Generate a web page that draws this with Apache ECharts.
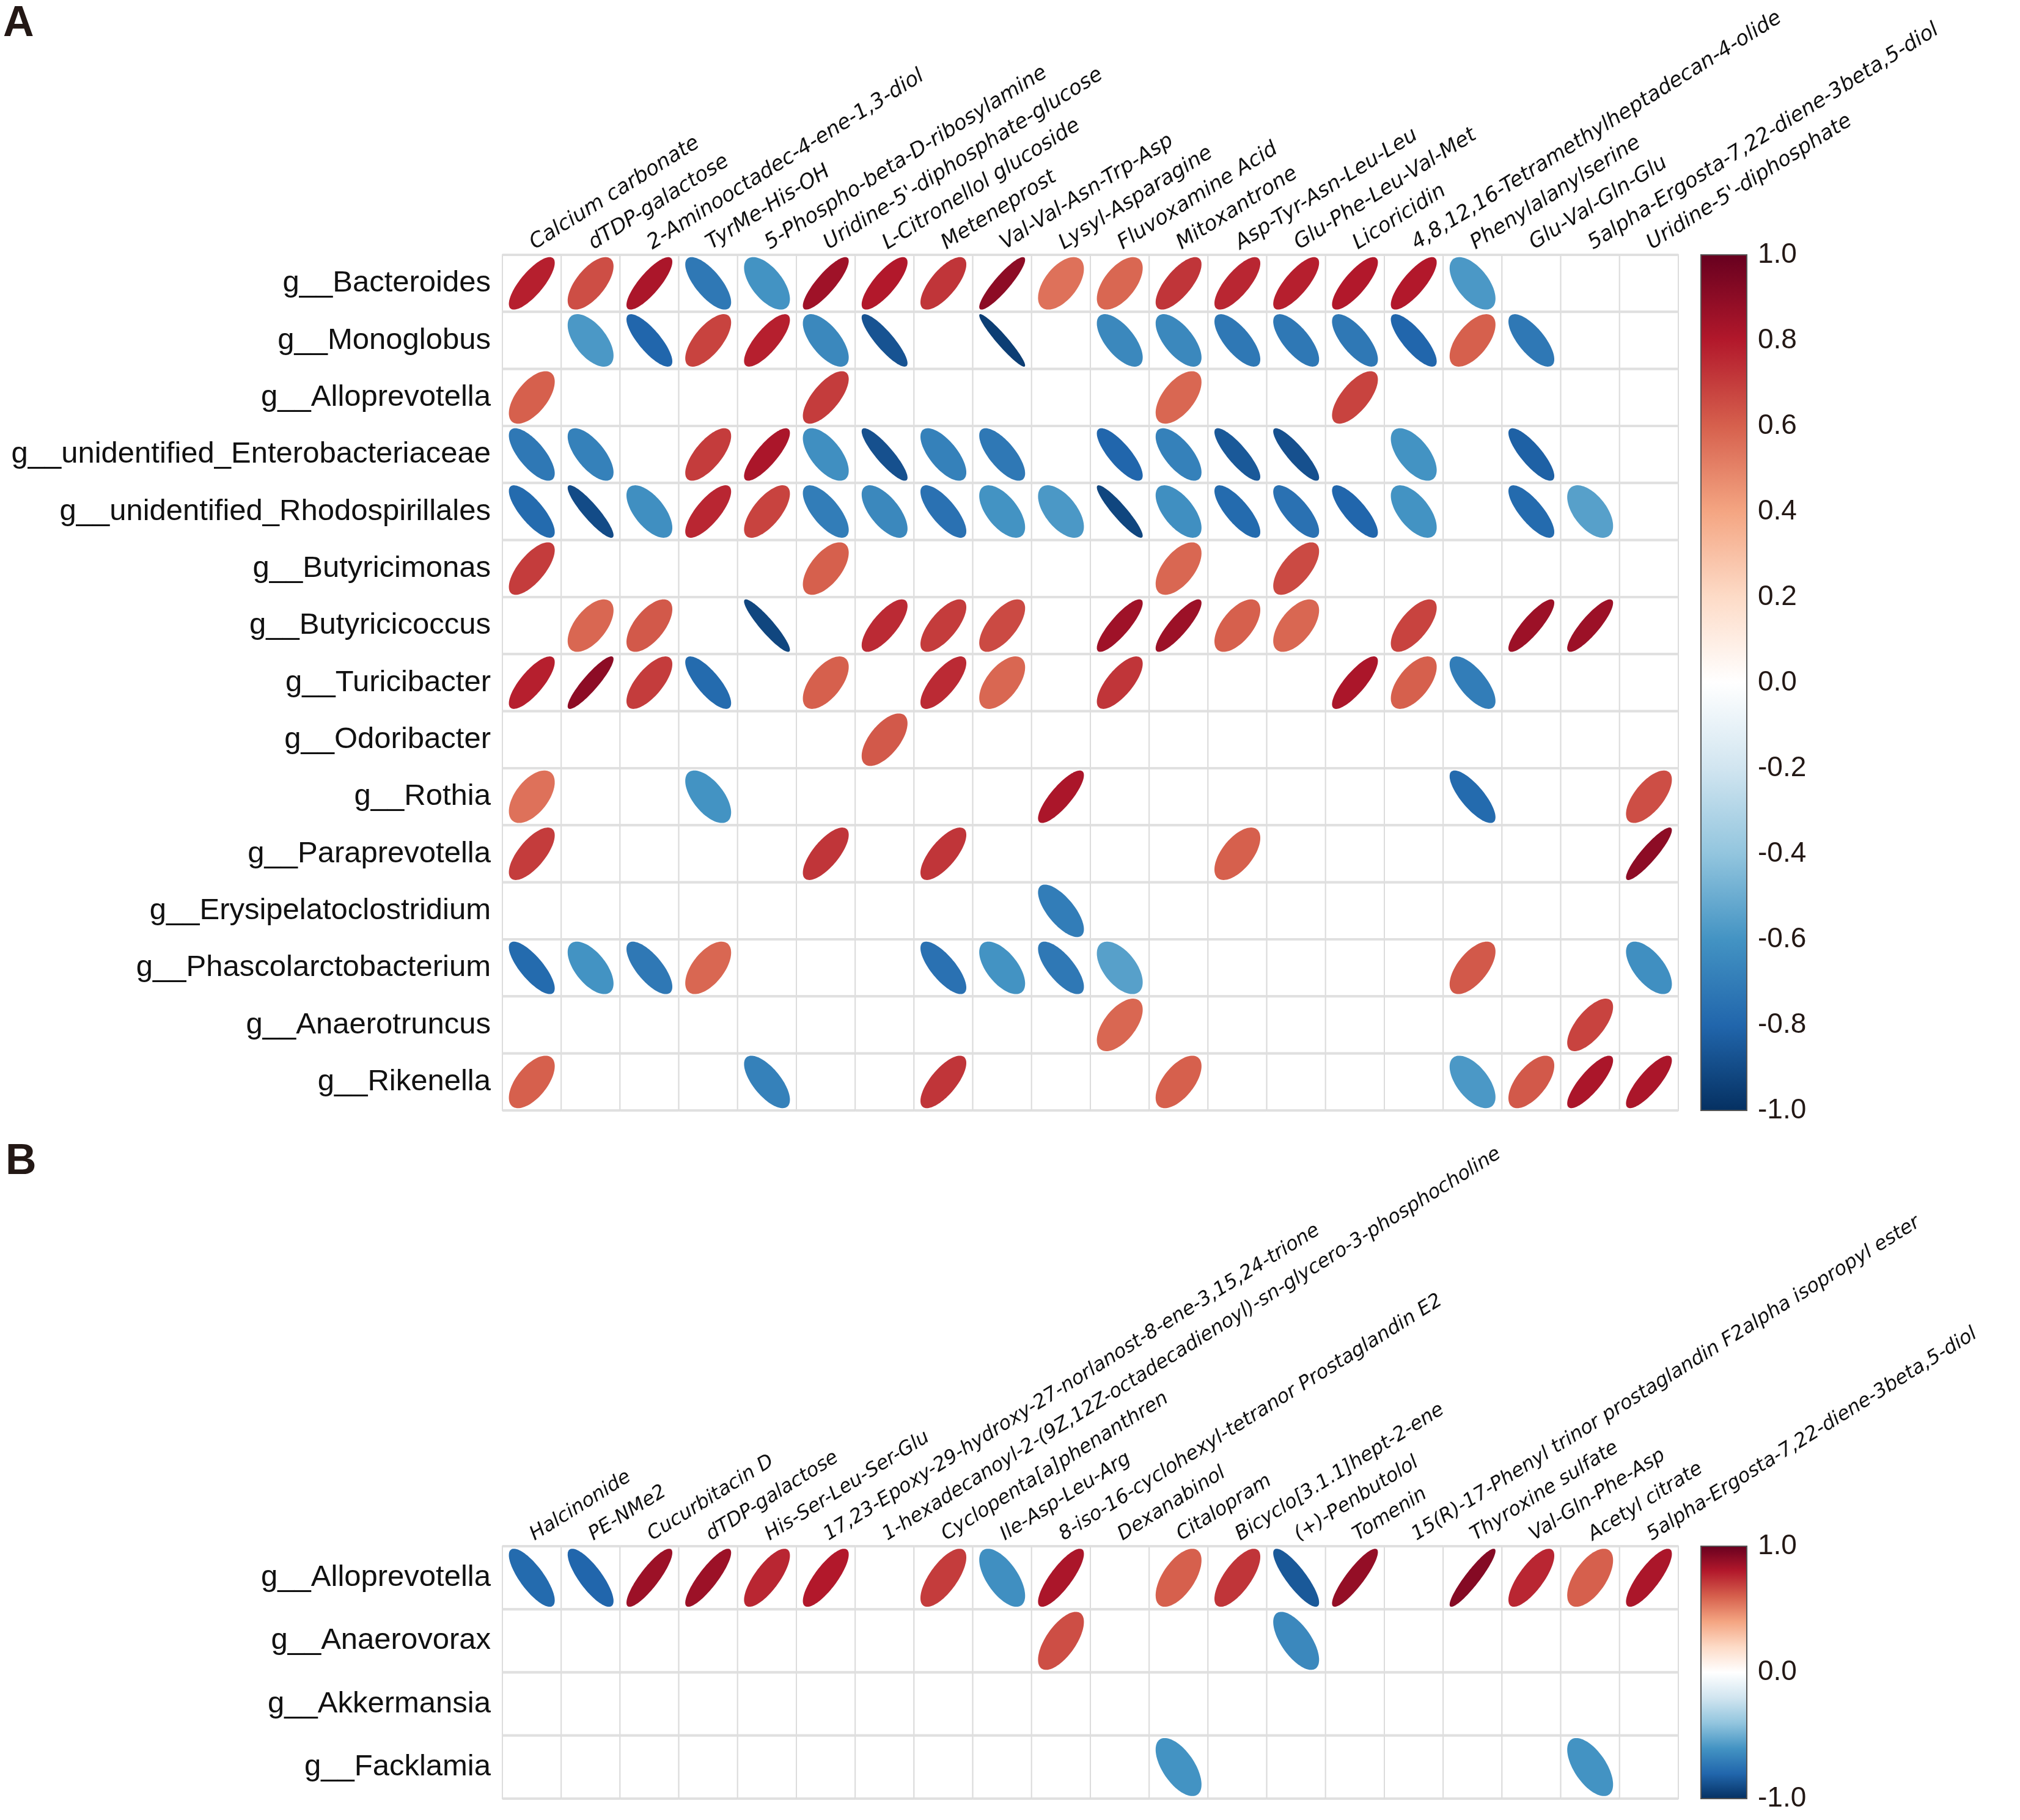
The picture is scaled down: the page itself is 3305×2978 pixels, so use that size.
<!DOCTYPE html>
<html><head><meta charset="utf-8">
<script src="https://cdn.jsdelivr.net/npm/echarts@6/dist/echarts.min.js"></script>
<style>html,body{margin:0;padding:0;background:#fff}#c{width:3305px;height:2978px}</style>
</head><body><div id="c"></div>
<script>
// ---------- Panel A ----------
const metabolitesA = ['Calcium carbonate','dTDP-galactose','2-Aminooctadec-4-ene-1,3-diol','TyrMe-His-OH','5-Phospho-beta-D-ribosylamine',"Uridine-5'-diphosphate-glucose",'L-Citronellol glucoside','Meteneprost','Val-Val-Asn-Trp-Asp','Lysyl-Asparagine','Fluvoxamine Acid','Mitoxantrone','Asp-Tyr-Asn-Leu-Leu','Glu-Phe-Leu-Val-Met','Licoricidin','4,8,12,16-Tetramethylheptadecan-4-olide','Phenylalanylserine','Glu-Val-Gln-Glu','5alpha-Ergosta-7,22-diene-3beta,5-diol',"Uridine-5'-diphosphate"];
const generaA = ['g__Bacteroides','g__Monoglobus','g__Alloprevotella','g__unidentified_Enterobacteriaceae','g__unidentified_Rhodospirillales','g__Butyricimonas','g__Butyricicoccus','g__Turicibacter','g__Odoribacter','g__Rothia','g__Paraprevotella','g__Erysipelatoclostridium','g__Phascolarctobacterium','g__Anaerotruncus','g__Rikenella'];
const _ = null;
const A_Bacteroides   = [0.78,0.65,0.82,-0.72,-0.6,0.85,0.8,0.72,0.9,0.55,0.58,0.72,0.76,0.78,0.8,0.8,-0.58,_,_,_];
const A_Monoglobus    = [_,-0.58,-0.8,0.68,0.78,-0.65,-0.87,_,-0.95,_,-0.65,-0.65,-0.72,-0.72,-0.72,-0.8,0.6,-0.72,_,_];
const A_Alloprevotella= [0.6,_,_,_,_,0.7,_,_,_,_,_,0.58,_,_,0.68,_,_,_,_,_];
const A_Enterobact    = [-0.72,-0.68,_,0.7,0.82,-0.62,-0.88,-0.68,-0.72,_,-0.8,-0.68,-0.85,-0.88,_,-0.6,_,-0.82,_,_];
const A_Rhodospir     = [-0.78,-0.9,-0.62,0.76,0.68,-0.7,-0.65,-0.75,-0.6,-0.58,-0.92,-0.62,-0.78,-0.75,-0.8,-0.6,_,-0.78,-0.55,_];
const A_Butyricimonas = [0.7,_,_,_,_,0.6,_,_,_,_,_,0.58,_,0.66,_,_,_,_,_,_];
const A_Butyricicoccus= [_,0.58,0.62,_,-0.92,_,0.75,0.7,0.66,_,0.85,0.86,0.6,0.58,_,0.68,_,0.86,0.86,_];
const A_Turicibacter  = [0.78,0.9,0.7,-0.78,_,0.6,_,0.75,0.58,_,0.72,_,_,_,0.82,0.6,-0.7,_,_,_];
const A_Odoribacter   = [_,_,_,_,_,_,0.62,_,_,_,_,_,_,_,_,_,_,_,_,_];
const A_Rothia        = [0.55,_,_,-0.6,_,_,_,_,_,0.82,_,_,_,_,_,_,-0.78,_,_,0.65];
const A_Paraprevotella= [0.7,_,_,_,_,0.72,_,0.72,_,_,_,_,0.6,_,_,_,_,_,_,0.9];
const A_Erysipelato   = [_,_,_,_,_,_,_,_,_,-0.7,_,_,_,_,_,_,_,_,_,_];
const A_Phascolarcto  = [-0.78,-0.6,-0.72,0.58,_,_,_,-0.75,-0.6,-0.72,-0.55,_,_,_,_,_,0.62,_,_,-0.62];
const A_Anaerotruncus = [_,_,_,_,_,_,_,_,_,_,0.58,_,_,_,_,_,_,_,0.68,_];
const A_Rikenella     = [0.6,_,_,_,-0.68,_,_,0.72,_,_,_,0.6,_,_,_,_,-0.58,0.62,0.82,0.82];
const rowsA = [A_Bacteroides,A_Monoglobus,A_Alloprevotella,A_Enterobact,A_Rhodospir,A_Butyricimonas,A_Butyricicoccus,A_Turicibacter,A_Odoribacter,A_Rothia,A_Paraprevotella,A_Erysipelato,A_Phascolarcto,A_Anaerotruncus,A_Rikenella];

// ---------- Panel B ----------
const metabolitesB = ['Halcinonide','PE-NMe2','Cucurbitacin D','dTDP-galactose','His-Ser-Leu-Ser-Glu','17,23-Epoxy-29-hydroxy-27-norlanost-8-ene-3,15,24-trione','1-hexadecanoyl-2-(9Z,12Z-octadecadienoyl)-sn-glycero-3-phosphocholine','Cyclopenta[a]phenanthren','Ile-Asp-Leu-Arg','8-iso-16-cyclohexyl-tetranor Prostaglandin E2','Dexanabinol','Citalopram','Bicyclo[3.1.1]hept-2-ene','(+)-Penbutolol','Tomenin','15(R)-17-Phenyl trinor prostaglandin F2alpha isopropyl ester','Thyroxine sulfate','Val-Gln-Phe-Asp','Acetyl citrate','5alpha-Ergosta-7,22-diene-3beta,5-diol'];
const generaB = ['g__Alloprevotella','g__Anaerovorax','g__Akkermansia','g__Facklamia'];
const B_Alloprevotella = [-0.78,-0.8,0.86,0.86,0.76,0.8,_,0.7,-0.62,0.82,_,0.6,0.72,-0.85,0.88,_,0.92,0.76,0.6,0.82];
const B_Anaerovorax    = [_,_,_,_,_,_,_,_,_,0.65,_,_,_,-0.65,_,_,_,_,_,_];
const B_Akkermansia    = [_,_,_,_,_,_,_,_,_,_,_,_,_,_,_,_,_,_,_,_];
const B_Facklamia      = [_,_,_,_,_,_,_,_,_,_,_,-0.6,_,_,_,_,_,_,-0.6,_];
const rowsB = [B_Alloprevotella,B_Anaerovorax,B_Akkermansia,B_Facklamia];

// colour bar ticks
const colorbarIntervalA = 0.2;
const colorbarIntervalB = 1.0;
const palette = ['#053061','#2166AC','#4393C3','#92C5DE','#D1E5F0','#FFFFFF','#FDDBC7','#F4A582','#D6604D','#B2182B','#67001F'];

function cellData(cols, rows){ const d=[]; rows.forEach((r,i)=>cols.forEach((c,j)=>d.push([j,i]))); return d; }
function ellData(rows){ const d=[]; rows.forEach((r,i)=>r.forEach((v,j)=>{ if(v!==null) d.push([j,i,v]); })); return d; }

function cellRender(params, api){
  const c = api.coord([api.value(0), api.value(1)]);
  const s = api.size([1,1]);
  const x0=c[0]-s[0]/2, y0=c[1]-s[1]/2;
  return {type:'group', children:[
    {type:'rect', shape:{x:x0,y:y0,width:s[0],height:s[1]}, style:{fill:'#fff', stroke:'#DCDCDC', lineWidth:2}},
    {type:'line', shape:{x1:x0,y1:y0,x2:x0+s[0],y2:y0}, style:{stroke:'#E0E0E0', lineWidth:4}},
    {type:'line', shape:{x1:x0,y1:y0+s[1],x2:x0+s[0],y2:y0+s[1]}, style:{stroke:'#E0E0E0', lineWidth:4}}
  ]};
}
function ellRender(params, api){
  const c = api.coord([api.value(0), api.value(1)]);
  const s = api.size([1,1]);
  const r = api.value(2);
  const d = Math.acos(Math.max(-1,Math.min(1,r)));
  const hw = s[0]*0.39, hh = s[1]*0.46;
  const pts = [];
  for (let i=0;i<96;i++){ const t=i/96*2*Math.PI; pts.push([c[0]+hw*Math.cos(t+d/2), c[1]-hh*Math.cos(t-d/2)]); }
  return {type:'polygon', shape:{points:pts}, style:{fill: api.visual('color')}};
}
function barRender(params, api){
  const cs = params.coordSys;
  const top = api.coord([0, 1]); const bot = api.coord([0, -1]);
  const stops = palette.slice().reverse().map((col,k)=>({offset:k/(palette.length-1), color:col}));
  return {type:'rect', shape:{x:cs.x, y:top[1], width:cs.width, height:bot[1]-top[1]},
    style:{fill:{type:'linear',x:0,y:0,x2:0,y2:1,colorStops:stops}, stroke:'#555', lineWidth:2}};
}
const fmt = v => (Math.abs(v)<1e-9 ? '0.0' : v.toFixed(1));
const labelFont = 'Liberation Sans, Arial, sans-serif';
const colFont = 'DejaVu Sans, Verdana, sans-serif';

const chart = echarts.init(document.getElementById('c'), null, {renderer:'canvas'});
chart.setOption({
  backgroundColor:'#fff',
  animation:false,
  title:[
    {text:'A', left:0, top:0, textStyle:{fontSize:70, fontWeight:'bold', fontFamily:labelFont, color:'#231815'}},
    {text:'B', left:4, top:1862, textStyle:{fontSize:70, fontWeight:'bold', fontFamily:labelFont, color:'#231815'}}
  ],
  grid:[
    {left:822, top:417, width:1924, height:1400, outerBoundsMode:'none'},
    {left:2783, top:417, width:75, height:1400, outerBoundsMode:'none'},
    {left:822, top:2530, width:1924, height:413, outerBoundsMode:'none'},
    {left:2783, top:2530, width:75, height:413, outerBoundsMode:'none'}
  ],
  xAxis:[
    {gridIndex:0, type:'category', data:metabolitesA, position:'top', axisLine:{show:false}, axisTick:{show:false}, splitLine:{show:false},
     axisLabel:{interval:0, rotate:-32, align:'left', verticalAlign:'middle', margin:16, fontSize:34, fontStyle:'italic', fontFamily:colFont, color:'#111'}},
    {gridIndex:1, type:'value', min:0, max:1, show:false},
    {gridIndex:2, type:'category', data:metabolitesB, position:'top', axisLine:{show:false}, axisTick:{show:false}, splitLine:{show:false},
     axisLabel:{interval:0, rotate:-32, align:'left', verticalAlign:'middle', margin:16, fontSize:32, fontStyle:'italic', fontFamily:colFont, color:'#111'}},
    {gridIndex:3, type:'value', min:0, max:1, show:false}
  ],
  yAxis:[
    {gridIndex:0, type:'category', data:generaA, inverse:true, axisLine:{show:false}, axisTick:{show:false}, splitLine:{show:false},
     axisLabel:{interval:0, margin:19, fontSize:49, fontFamily:labelFont, color:'#111'}},
    {gridIndex:1, type:'value', min:-1, max:1, interval:colorbarIntervalA, position:'right', splitLine:{show:false},
     axisLine:{show:true, lineStyle:{color:'#333', width:2}}, axisTick:{show:true, length:8, lineStyle:{color:'#333', width:2}},
     axisLabel:{formatter:fmt, margin:18, fontSize:46, fontFamily:labelFont, color:'#231815'}},
    {gridIndex:2, type:'category', data:generaB, inverse:true, axisLine:{show:false}, axisTick:{show:false}, splitLine:{show:false},
     axisLabel:{interval:0, margin:19, fontSize:49, fontFamily:labelFont, color:'#111'}},
    {gridIndex:3, type:'value', min:-1, max:1, interval:colorbarIntervalB, position:'right', splitLine:{show:false},
     axisLine:{show:true, lineStyle:{color:'#333', width:2}}, axisTick:{show:true, length:8, lineStyle:{color:'#333', width:2}},
     axisLabel:{formatter:fmt, margin:18, fontSize:46, fontFamily:labelFont, color:'#231815'}}
  ],
  visualMap:[{type:'continuous', show:false, min:-1, max:1, dimension:2, seriesIndex:[1,4], inRange:{color:palette}}],
  series:[
    {type:'custom', xAxisIndex:0, yAxisIndex:0, data:cellData(metabolitesA, generaA), renderItem:cellRender, silent:true},
    {type:'custom', xAxisIndex:0, yAxisIndex:0, data:ellData(rowsA), renderItem:ellRender, silent:true},
    {type:'custom', xAxisIndex:1, yAxisIndex:1, data:[[0]], renderItem:barRender, silent:true},
    {type:'custom', xAxisIndex:2, yAxisIndex:2, data:cellData(metabolitesB, generaB), renderItem:cellRender, silent:true},
    {type:'custom', xAxisIndex:2, yAxisIndex:2, data:ellData(rowsB), renderItem:ellRender, silent:true},
    {type:'custom', xAxisIndex:3, yAxisIndex:3, data:[[0]], renderItem:barRender, silent:true}
  ]
});
</script></body></html>
